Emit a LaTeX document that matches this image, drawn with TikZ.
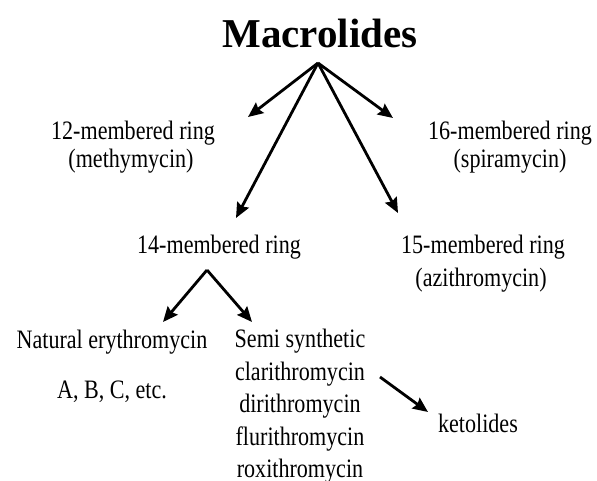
\documentclass[tikz,border=0pt]{standalone}
\usepackage{fontspec}
\setmainfont{Liberation Serif}
\newfontfamily\bodyfont[FakeStretch=0.83]{Liberation Serif}
\usetikzlibrary{arrows.meta}
\begin{document}
\begin{tikzpicture}[x=1pt,y=-1pt,
  lbl/.style={anchor=base, inner sep=0pt, font=\bodyfont\fontsize{26.6}{30}\selectfont},
  ttl/.style={anchor=base, inner sep=0pt, font=\bfseries\fontsize{41}{45}\selectfont},
  arr/.style={line width=2.8pt, -{Stealth[length=15pt,width=13pt,inset=2pt]}}]
\useasboundingbox (0,0) rectangle (597,481);
% title
\node[ttl] (title) at (320,48) {Macrolides};
% first tier
\node[lbl] (r12a) at (133,140) {12-membered ring};
\node[lbl] (r12b) at (131,168) {(methymycin)};
\node[lbl] (r16a) at (510,140) {16-membered ring};
\node[lbl] (r16b) at (510,168) {(spiramycin)};
\node[lbl] (r14)  at (219,254) {14-membered ring};
\node[lbl] (r15a) at (483,254) {15-membered ring};
\node[lbl] (r15b) at (481,286) {(azithromycin)};
% second tier
\node[lbl] (nat)  at (112,348) {Natural erythromycin};
\node[lbl] (abc)  at (112,398) {A, B, C, etc.};
\node[lbl] (semi) at (300,347) {Semi synthetic};
\node[lbl] (cla)  at (300,380) {clarithromycin};
\node[lbl] (dir)  at (300,412) {dirithromycin};
\node[lbl] (flu)  at (300,445) {flurithromycin};
\node[lbl] (rox)  at (300,477) {roxithromycin};
\node[lbl] (ket)  at (478,432) {ketolides};
% connector points
\coordinate (apex) at (318,63);
\coordinate (t12) at (248,117);
\coordinate (t16) at (393,118);
\coordinate (t14) at (236,218);
\coordinate (t15) at (398,213);
\coordinate (apex2) at (207,270);
\coordinate (tnat) at (163,322);
\coordinate (tsemi) at (252,322);
\coordinate (kfrom) at (380,377);
\coordinate (kto) at (428,412);
% connectors
\draw[arr] (apex) -- (t12);
\draw[arr] (apex) -- (t16);
\draw[arr] (apex) -- (t14);
\draw[arr] (apex) -- (t15);
\draw[arr] (apex2) -- (tnat);
\draw[arr] (apex2) -- (tsemi);
\draw[arr] (kfrom) -- (kto);
\end{tikzpicture}
\end{document}
